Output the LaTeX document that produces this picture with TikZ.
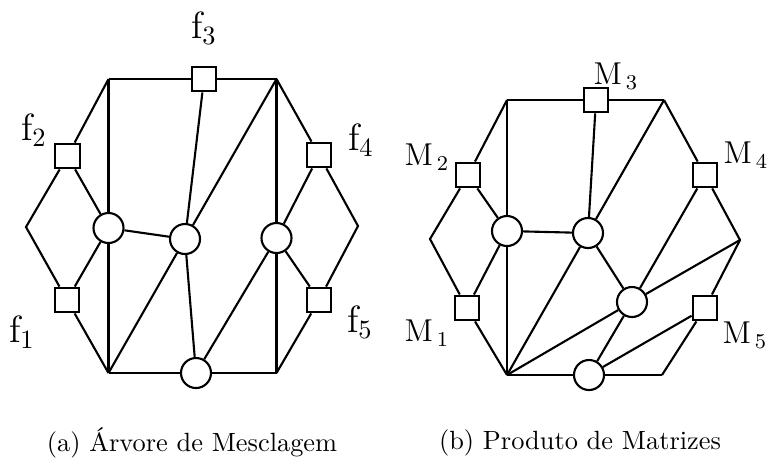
\documentclass[tikz,border=0pt]{standalone}
\usepackage{tikz}
\usetikzlibrary{positioning}

\begin{document}
\begin{tikzpicture}[x=1.333mm,y=-1.333mm,thick,
  sq/.style={draw,minimum size=0.33cm,inner sep=0pt},
  rd/.style={draw,circle,minimum size=0.40cm,inner sep=0pt},
  lbf/.style={font=\Large,inner sep=1pt},
  lbm/.style={font=\large,inner sep=1pt}]
  \useasboundingbox (0,0) rectangle (76.9,46.8);

  % (a) merge tree
  \coordinate (atl) at (10.85,7.9);
  \coordinate (atr) at (27.65,7.9);
  \coordinate (abl) at (10.85,37.3);
  \coordinate (abr) at (27.65,37.3);
  \coordinate (al) at (2.6,22.7);
  \coordinate (ar) at (35.8,22.6);
  \node[sq] (f1) at (6.7,30.0) {};
  \node[sq] (f2) at (6.75,15.6) {};
  \node[sq] (f3) at (20.4,7.9) {};
  \node[sq] (f4) at (31.9,15.5) {};
  \node[sq] (f5) at (31.9,30.0) {};
  \node[rd] (aw) at (10.85,22.8) {};
  \node[rd] (ac) at (18.5,23.9) {};
  \node[rd] (ae) at (27.65,23.8) {};
  \node[rd] (ab) at (19.6,37.3) {};
  \draw (atl) -- (f3) -- (atr);
  \draw (abl) -- (ab) -- (abr);
  \draw (atl) -- (f2) -- (al) -- (f1) -- (abl);
  \draw (atr) -- (f4) -- (ar) -- (f5) -- (abr);
  \draw (f2) -- (aw) -- (f1);
  \draw (f4) -- (ae) -- (f5);
  \draw (atl) -- (aw) -- (abl);
  \draw (atr) -- (ae) -- (abr);
  \draw (aw) -- (ac);
  \draw (f3) -- (ac);
  \draw (atr) -- (ac);
  \draw (abl) -- (ac);
  \draw (ac) -- (ab);
  \draw (ab) -- (ae);
  \node[lbf] (lf1) at (2.2,33.2) {$\mathrm{f}_{1}$};
  \node[lbf] (lf2) at (3.4,13.0) {$\mathrm{f}_{2}$};
  \node[lbf] (lf3) at (20.4,2.8) {$\mathrm{f}_{3}$};
  \node[lbf] (lf4) at (36.1,14.0) {$\mathrm{f}_{4}$};
  \node[lbf] (lf5) at (36.0,32.2) {$\mathrm{f}_{5}$};

  % (b) matrix product
  \coordinate (btl) at (50.7,10.0);
  \coordinate (btr) at (66.4,10.0);
  \coordinate (bbl) at (50.7,37.5);
  \coordinate (bbr) at (66.2,37.5);
  \coordinate (bl) at (43.0,23.9);
  \coordinate (br) at (74.0,24.0);
  \node[sq] (m1) at (46.7,30.8) {};
  \node[sq] (m2) at (46.8,17.5) {};
  \node[sq] (m3) at (59.6,10.0) {};
  \node[sq] (m4) at (70.5,17.5) {};
  \node[sq] (m5) at (70.5,30.8) {};
  \node[rd] (bw) at (50.7,23.1) {};
  \node[rd] (bc) at (58.8,23.3) {};
  \node[rd] (be) at (63.2,30.2) {};
  \node[rd] (bb) at (58.9,37.5) {};
  \draw (btl) -- (m3) -- (btr);
  \draw (bbl) -- (bb) -- (bbr);
  \draw (btl) -- (m2) -- (bl) -- (m1) -- (bbl);
  \draw (btr) -- (m4) -- (br) -- (m5) -- (bbr);
  \draw (m2) -- (bw) -- (m1);
  \draw (btl) -- (bw) -- (bbl);
  \draw (bw) -- (bc);
  \draw (m3) -- (bc);
  \draw (btr) -- (bc);
  \draw (bbl) -- (bc);
  \draw (bc) -- (be);
  \draw (m4) -- (be);
  \draw (br) -- (be);
  \draw (bbl) -- (be);
  \draw (be) -- (bb);
  \draw (m5) -- (bb);
  \node[lbm] (lm1) at (42.7,33.3) {$\mathrm{M}_{\,1}$};
  \node[lbm] (lm2) at (42.7,15.7) {$\mathrm{M}_{\,2}$};
  \node[lbm] (lm3) at (61.6,7.6) {$\mathrm{M}_{\,3}$};
  \node[lbm] (lm4) at (74.6,15.5) {$\mathrm{M}_{\,4}$};
  \node[lbm] (lm5) at (74.5,33.5) {$\mathrm{M}_{\,5}$};

  % captions
  \node (capa) at (19.2,44.3) {(a) Árvore de Mesclagem};
  \node (capb) at (58.0,44.3) {(b) Produto de Matrizes};
\end{tikzpicture}
\end{document}
